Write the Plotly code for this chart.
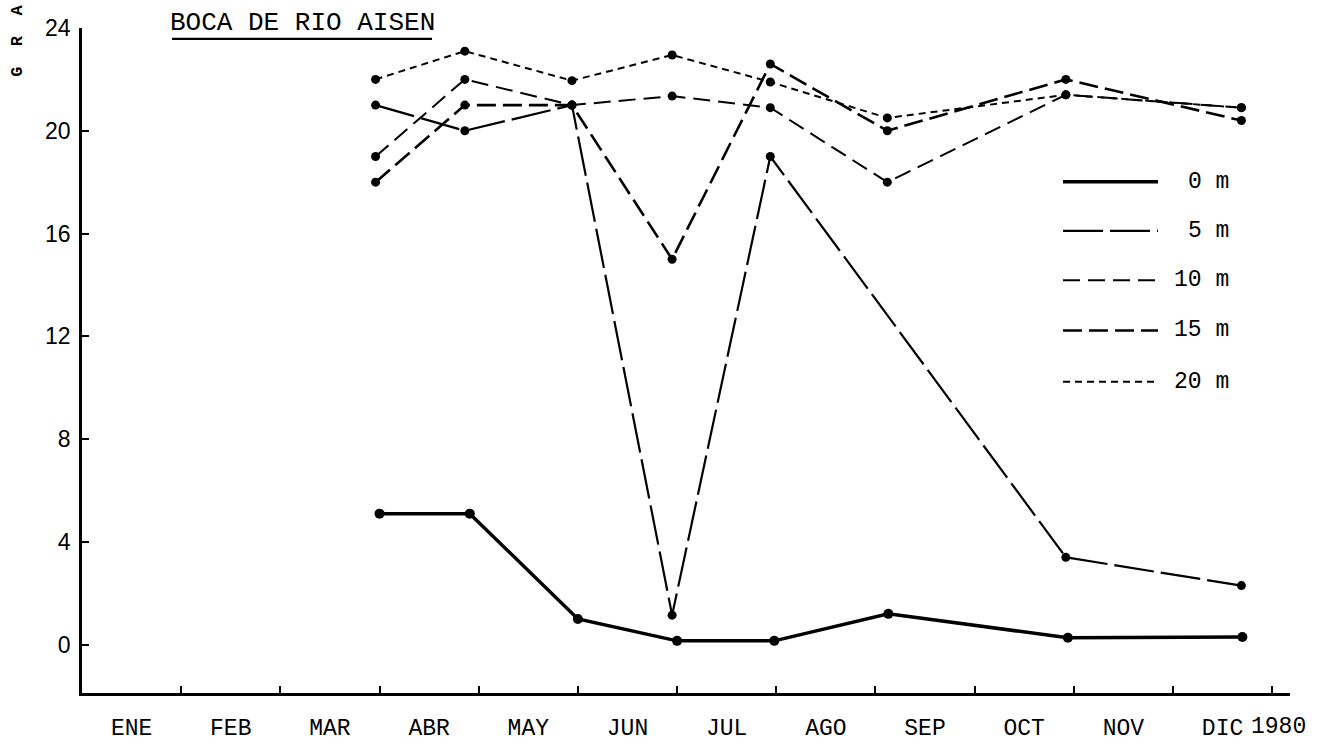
import plotly.graph_objects as go

# ---- data (x in months from 1 Jan; 1 unit = 1 month) ----
month_labels = ["ENE", "FEB", "MAR", "ABR", "MAY", "JUN",
                "JUL", "AGO", "SEP", "OCT", "NOV", "DIC"]
sample_x = [2.96, 3.86, 4.94, 5.95, 6.94, 8.12, 9.92, 11.69]
sample_x_0m = [3.0, 3.91, 5.0, 6.0, 6.98, 8.13, 9.94, 11.70]

sal_0m = [5.1, 5.1, 1.0, 0.15, 0.15, 1.2, 0.27, 0.3]
sal_5m = [21.0, 20.0, 21.0, 1.15, 19.0, None, 3.4, 2.3]
sal_10m = [19.0, 22.0, 21.0, 21.35, 20.9, 18.0, 21.4, 20.9]
sal_15m = [18.0, 21.0, 21.0, 15.0, 22.6, 20.0, 22.0, 20.4]
sal_20m = [22.0, 23.1, 21.95, 22.95, 21.9, 20.5, 21.4, 20.9]

y_ticks = [0, 4, 8, 12, 16, 20, 24]
series_names = ["0 m", "5 m", "10 m", "15 m", "20 m"]

# ---- styles ----
styles = [
    dict(width=3.5, dash="solid"),
    dict(width=2.2, dash="40px,7px"),
    dict(width=2.0, dash="17px,8px"),
    dict(width=2.6, dash="19px,7px"),
    dict(width=2.0, dash="7px,5px"),
]

W, H = 1321, 754
L, R, T, B = 82, 31, 28, 51
pw, ph = W - L - R, H - T - B


def px(x):
    return (x - L) / pw


def py(y):
    return (H - B - y) / ph


fig = go.Figure()
series = [(sample_x_0m, sal_0m), (sample_x, sal_5m), (sample_x, sal_10m),
          (sample_x, sal_15m), (sample_x, sal_20m)]
for (xs, ys), st, nm in zip(series, styles, series_names):
    fig.add_trace(go.Scatter(
        x=xs, y=ys, name=nm, mode="lines+markers", connectgaps=True,
        line=dict(color="black", width=st["width"], dash=st["dash"]),
        marker=dict(color="black", size=10 if nm == "0 m" else 9),
        showlegend=False,
    ))

mono = "Liberation Mono"

# manual legend
leg_y = [184, 234, 284, 335, 387]
shapes = []
annotations = []
for st, nm, yy in zip(styles, series_names, leg_y):
    shapes.append(dict(type="line", xref="paper", yref="paper",
                       x0=px(1063), x1=px(1158), y0=py(yy), y1=py(yy),
                       line=dict(color="black", width=st["width"], dash=st["dash"])))
    annotations.append(dict(text=nm, xref="paper", yref="paper",
                            x=px(1231), y=py(yy), xanchor="right", yanchor="middle",
                            showarrow=False, font=dict(family=mono, size=23, color="black")))

# title with underline
annotations.append(dict(text="BOCA DE RIO AISEN", xref="paper", yref="paper",
                        x=px(302), y=py(23), xanchor="center", yanchor="middle",
                        showarrow=False, font=dict(family=mono, size=26, color="black")))
shapes.append(dict(type="line", xref="paper", yref="paper",
                   x0=px(172), x1=px(432), y0=py(39), y1=py(39),
                   line=dict(color="black", width=2.2)))

# rotated partial axis title
annotations.append(dict(text="<b>G  R  A</b>", xref="paper", yref="paper",
                        x=px(18), y=py(41), xanchor="center", yanchor="middle",
                        textangle=-90, showarrow=False,
                        font=dict(family=mono, size=17, color="black")))

# year label
annotations.append(dict(text="1980", xref="paper", yref="paper",
                        x=px(1278), y=py(738), xanchor="center", yanchor="middle",
                        showarrow=False, font=dict(family=mono, size=23, color="black")))

fig.update_layout(
    width=W, height=H, autosize=False,
    margin=dict(l=L, r=R, t=T, b=B, pad=0),
    paper_bgcolor="white", plot_bgcolor="white",
    shapes=shapes, annotations=annotations,
    xaxis=dict(
        range=[0, 12.18], showgrid=False, zeroline=False,
        showline=True, linecolor="black", linewidth=2.5,
        tickmode="array", tickvals=[i + 0.5 for i in range(12)], ticktext=month_labels,
        ticks="", ticklabelstandoff=12,
        tickfont=dict(family=mono, size=23, color="black"),
        minor=dict(tickmode="array", tickvals=list(range(1, 13)), ticks="inside",
                   ticklen=7, tickwidth=2, tickcolor="black", showgrid=False),
    ),
    yaxis=dict(
        range=[-1.88, 24], showgrid=False, zeroline=False,
        showline=True, linecolor="black", linewidth=2.5,
        tickmode="array", tickvals=y_ticks, ticks="inside", ticklen=7,
        tickwidth=2, tickcolor="black", ticklabelstandoff=4,
        tickfont=dict(family="Liberation Sans", size=23, color="black"),
    ),
)

fig.write_html("out.html")
